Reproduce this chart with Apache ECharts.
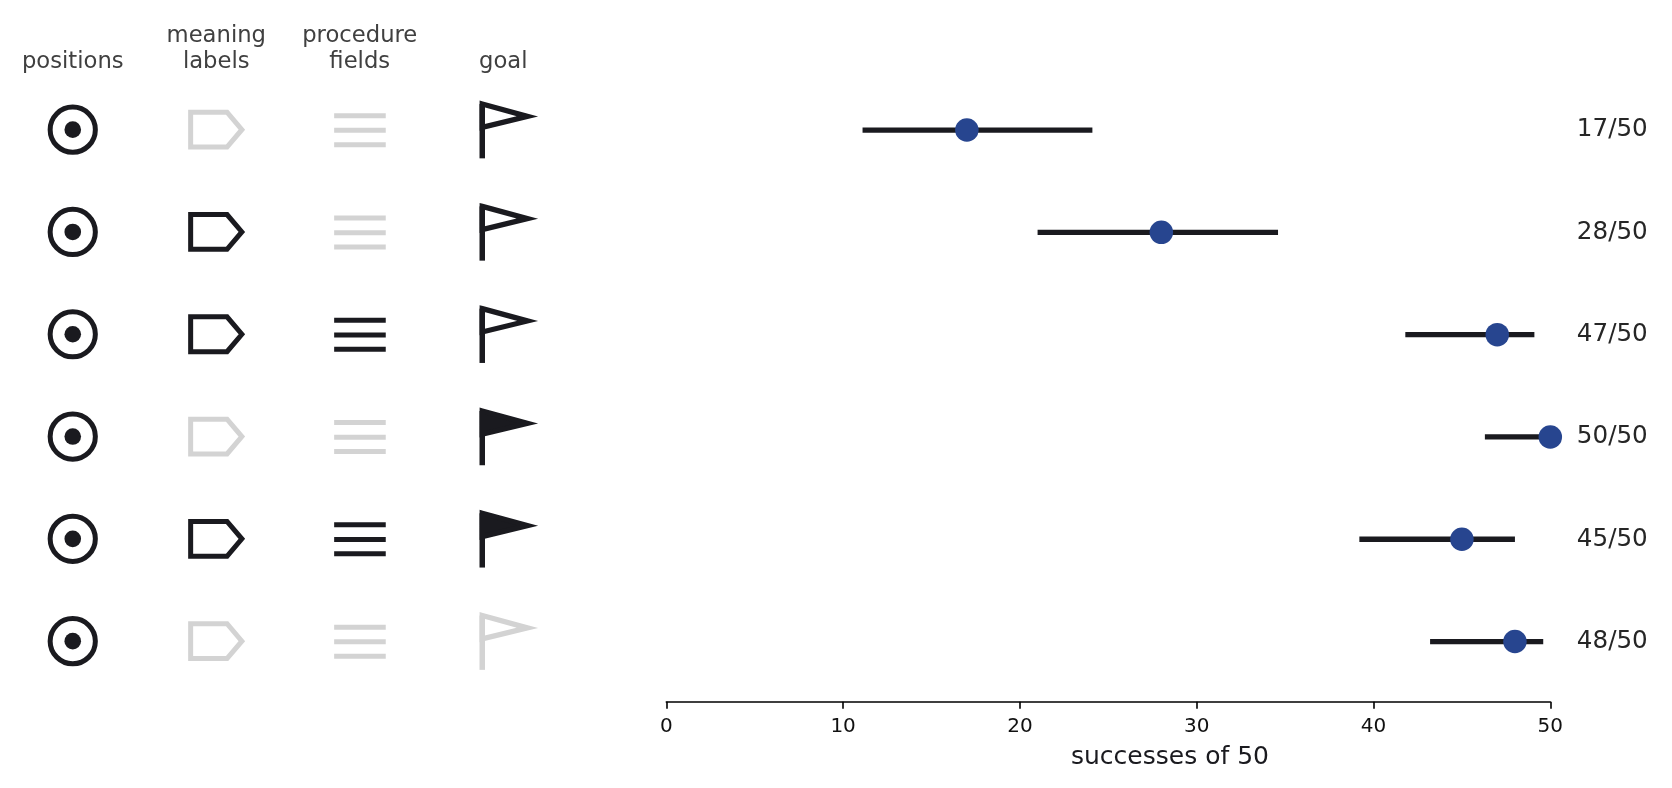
<!DOCTYPE html>
<html>
<head>
<meta charset="utf-8">
<title>successes of 50</title>
<script src="https://cdn.jsdelivr.net/npm/echarts@6/dist/echarts.min.js"></script>
<style>
    html, body { margin: 0; padding: 0; background: #fff; }
    #main { width: 1672px; height: 788px; }
</style>
</head>
<body>
<div id="main"></div>
<script>
// data, one entry per row from top to bottom
var rowLabels = ['17/50', '28/50', '47/50', '50/50', '45/50', '48/50'];
var successes = [17, 28, 47, 50, 45, 48];
var lower = [11.1, 21.0, 41.8, 46.3, 39.2, 43.2];
var upper = [24.1, 34.6, 49.1, 50, 48, 49.6];
var xTicks = [0, 10, 20, 30, 40, 50];

// icon columns: 0 grey, 1 black, 2 black and filled (flag only)
var columns = ['positions', 'meaning\nlabels', 'procedure\nfields', 'goal'];
var positionsOn = [1, 1, 1, 1, 1, 1];
var labelsOn = [0, 1, 1, 0, 1, 0];
var fieldsOn = [0, 0, 1, 0, 1, 0];
var goalOn = [1, 1, 1, 2, 2, 0];

var BLACK = '#1a1a1f';
var GREY = '#d3d3d3';
var BLUE = '#27458f';
var FONT = '"DejaVu Sans"';

var iconData = [];
[positionsOn, labelsOn, fieldsOn, goalOn].forEach(function (col, c) {
    col.forEach(function (v, r) {
        iconData.push([c, r, v]);
    });
});

function line(x1, y1, x2, y2, color, w) {
    return {
        type: 'line',
        shape: { x1: x1, y1: y1, x2: x2, y2: y2 },
        style: { stroke: color, lineWidth: w, lineCap: 'butt' }
    };
}

function poly(points, color, w, fill) {
    return {
        type: 'polygon',
        shape: { points: points },
        style: { stroke: color, lineWidth: w, fill: fill, lineJoin: 'miter', miterLimit: 20 }
    };
}

// one glyph per cell, sizes are relative to the cell centre
function renderIcon(params, api) {
    var c = api.value(0);
    var on = api.value(2);
    var p = api.coord([c, api.value(1)]);
    var x = p[0], y = p[1];
    var color = on ? BLACK : GREY;
    var kids = [];

    if (c === 0) {
        kids.push({
            type: 'circle',
            shape: { cx: x, cy: y, r: 22.6 },
            style: { stroke: color, lineWidth: 5, fill: 'none' }
        });
        kids.push({
            type: 'circle',
            shape: { cx: x, cy: y, r: 8.3 },
            style: { fill: color }
        });
    } else if (c === 1) {
        kids.push(poly([
            [x - 25.6, y - 17.4], [x + 10.8, y - 17.4], [x + 25.6, y],
            [x + 10.8, y + 17.4], [x - 25.6, y + 17.4]
        ], color, 5, 'none'));
    } else if (c === 2) {
        kids.push(line(x - 25.6, y - 14, x + 26, y - 14, color, 5));
        kids.push(line(x - 25.6, y + 0.7, x + 26, y + 0.7, color, 5));
        kids.push(line(x - 25.6, y + 15, x + 26, y + 15, color, 5));
    } else {
        kids.push(poly([
            [x - 21, y - 25.6], [x + 24.2, y - 13.3], [x - 21, y - 2.3]
        ], color, 5.3, on === 2 ? color : 'none'));
        kids.push(line(x - 21, y - 25.6, x - 21, y + 28.7, color, 5.5));
    }
    return { type: 'group', children: kids };
}

function renderRange(params, api) {
    var a = api.coord([api.value(0), api.value(2)]);
    var b = api.coord([api.value(1), api.value(2)]);
    return line(a[0], a[1], b[0], b[1], BLACK, 5.3);
}

var myChart = echarts.init(document.getElementById('main'));
var option = {
    animation: false,
    backgroundColor: '#fff',
    title: {
        text: 'successes of 50',
        left: 1170,
        top: 757,
        padding: 0,
        textAlign: 'center',
        textVerticalAlign: 'middle',
        textStyle: { color: BLACK, fontFamily: FONT, fontSize: 25, fontWeight: 'normal' }
    },
    grid: [
        { left: 666.3, width: 884, top: 78.9, height: 613.8 },
        { left: 1, width: 574, top: 78.5, height: 613.8 }
    ],
    xAxis: [
        {
            gridIndex: 0,
            type: 'value',
            min: xTicks[0],
            max: xTicks[xTicks.length - 1],
            interval: 10,
            offset: 9,
            splitLine: { show: false },
            axisLine: { show: true, lineStyle: { color: '#000', width: 1.6 } },
            axisTick: { show: true, length: 7, lineStyle: { color: '#000', width: 1.6 } },
            axisLabel: { color: '#111', fontFamily: FONT, fontSize: 20, margin: 15 }
        },
        {
            gridIndex: 1,
            type: 'category',
            position: 'top',
            data: columns,
            axisLine: { show: false },
            axisTick: { show: false },
            axisLabel: { color: '#404040', fontFamily: FONT, fontSize: 22.7, lineHeight: 25.5, margin: 4, interval: 0 }
        }
    ],
    yAxis: [
        {
            gridIndex: 0,
            type: 'category',
            position: 'right',
            inverse: true,
            data: rowLabels,
            axisLine: { show: false },
            axisTick: { show: false },
            axisLabel: { color: '#262626', fontFamily: FONT, fontSize: 24.6, align: 'center', margin: 62, padding: [4, 0, 0, 0], interval: 0 }
        },
        {
            gridIndex: 1,
            type: 'category',
            inverse: true,
            data: rowLabels,
            show: false
        }
    ],
    series: [
        {
            type: 'custom',
            xAxisIndex: 1,
            yAxisIndex: 1,
            renderItem: renderIcon,
            clip: false,
            encode: { x: 0, y: 1 },
            data: iconData
        },
        {
            type: 'custom',
            xAxisIndex: 0,
            yAxisIndex: 0,
            renderItem: renderRange,
            clip: false,
            encode: { x: [0, 1], y: 2 },
            data: rowLabels.map(function (l, i) { return [lower[i], upper[i], i]; })
        },
        {
            type: 'scatter',
            xAxisIndex: 0,
            yAxisIndex: 0,
            symbol: 'circle',
            symbolSize: 23.5,
            clip: false,
            z: 5,
            itemStyle: { color: BLUE, opacity: 1 },
            data: successes.map(function (v, i) { return [v, i]; })
        }
    ]
};
myChart.setOption(option);
</script>
</body>
</html>
